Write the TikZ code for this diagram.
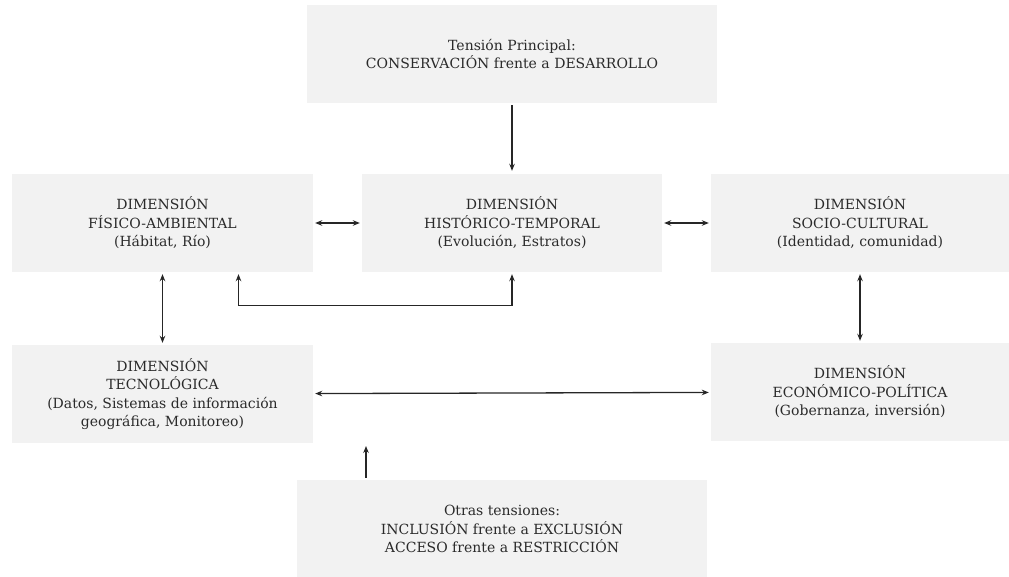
\documentclass[tikz,border=0pt]{standalone}
\usepackage{fontspec}
\setmainfont{DejaVu Serif}
\usetikzlibrary{arrows.meta}
\definecolor{boxgray}{HTML}{F2F2F2}
\definecolor{txtgray}{HTML}{2A2A2A}
\begin{document}
\begin{tikzpicture}[x=1pt,y=-1pt,
  caja/.style={fill=boxgray,align=center,text=txtgray,inner sep=0pt,
    minimum height=98pt,font=\fontsize{14}{18.5}\selectfont},
  flecha/.style={-{Stealth[length=7pt,width=5.5pt]},line width=1.3pt,black!85},
  doble/.style={{Stealth[length=7pt,width=5.5pt]}-{Stealth[length=7pt,width=5.5pt]},line width=1.3pt,black!85}]
\useasboundingbox (0,0) rectangle (1009,577);
\node[caja,minimum width=410pt] (tension) at (512,54) {Tensión Principal:\\CONSERVACIÓN frente a DESARROLLO};
\node[caja,minimum width=301pt] (fisico) at (162.5,223) {DIMENSIÓN\\FÍSICO-AMBIENTAL\\(Hábitat, Río)};
\node[caja,minimum width=300pt] (historico) at (512,223) {DIMENSIÓN\\HISTÓRICO-TEMPORAL\\(Evolución, Estratos)};
\node[caja,minimum width=298pt] (socio) at (860,223) {DIMENSIÓN\\SOCIO-CULTURAL\\(Identidad, comunidad)};
\node[caja,minimum width=301pt] (tecno) at (162.5,394) {DIMENSIÓN\\TECNOLÓGICA\\(Datos, Sistemas de información\\geográfica, Monitoreo)};
\node[caja,minimum width=298pt] (econ) at (860,392) {DIMENSIÓN\\ECONÓMICO-POLÍTICA\\(Gobernanza, inversión)};
\node[caja,minimum width=410pt] (otras) at (502,529) {Otras tensiones:\\INCLUSIÓN frente a EXCLUSIÓN\\ACCESO frente a RESTRICCIÓN};
\coordinate (otraspunta) at (366,446);
% conexiones
\draw[flecha,shorten <=2pt,shorten >=3pt] (tension) -- (historico);
\draw[doble,shorten <=2pt,shorten >=2pt] (fisico) -- (historico);
\draw[doble,shorten <=2pt,shorten >=2pt] (historico) -- (socio);
\draw[doble,shorten <=2pt,shorten >=2pt] (fisico) -- (tecno);
\draw[doble,shorten <=2pt,shorten >=2pt] (socio) -- (econ);
\draw[doble,shorten <=2pt,shorten >=2pt] (tecno) -- (econ);
\draw[doble,shorten <=2pt,shorten >=2pt] ([xshift=76pt]fisico.south) -- ++(0,33) -| (historico.south);
\draw[flecha,shorten <=2pt] (otras.north -| otraspunta) -- (otraspunta);
\end{tikzpicture}
\end{document}
